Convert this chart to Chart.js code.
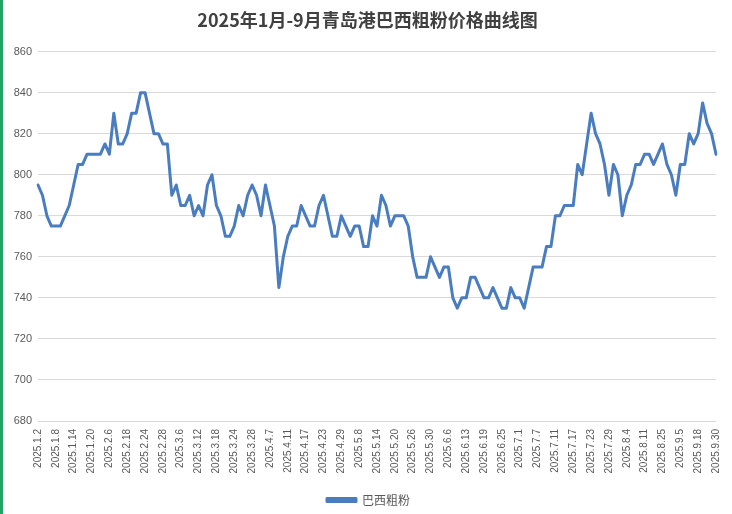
<!DOCTYPE html>
<html>
<head>
<meta charset="utf-8">
<script src="https://cdn.jsdelivr.net/npm/chart.js@4/dist/chart.umd.min.js"></script>
<style>
  html, body { margin: 0; padding: 0; background: #fff; }
  #wrap { position: relative; width: 732px; height: 514px; }
  #edge { position: absolute; left: 0; top: 0; width: 3px; height: 514px; background: #21a366; }
</style>
</head>
<body>
<div id="wrap">
  <canvas id="chart" width="732" height="514"></canvas>
  <div id="edge"></div>
</div>
<script>
// 横軸に表示される日付（4点ごと）
const tickLabels = [
  '2025.1.2', '2025.1.8', '2025.1.14', '2025.1.20', '2025.2.6', '2025.2.18', '2025.2.24', '2025.2.28',
  '2025.3.6', '2025.3.12', '2025.3.18', '2025.3.24', '2025.3.28', '2025.4.7', '2025.4.11', '2025.4.17',
  '2025.4.23', '2025.4.29', '2025.5.8', '2025.5.14', '2025.5.20', '2025.5.26', '2025.5.30', '2025.6.6',
  '2025.6.13', '2025.6.19', '2025.6.25', '2025.7.1', '2025.7.7', '2025.7.11', '2025.7.17', '2025.7.23',
  '2025.7.29', '2025.8.4', '2025.8.11', '2025.8.25', '2025.9.5', '2025.9.18', '2025.9.30'
];

// 巴西粗粉 价格（元/吨）
const prices = [
  795, 790, 780, 775, 775, 775, 780, 785, 795, 805, 805, 810, 810, 810, 810, 815, 810, 830, 815, 815,
  820, 830, 830, 840, 840, 830, 820, 820, 815, 815, 790, 795, 785, 785, 790, 780, 785, 780, 795, 800,
  785, 780, 770, 770, 775, 785, 780, 790, 795, 790, 780, 795, 785, 775, 745, 760, 770, 775, 775, 785,
  780, 775, 775, 785, 790, 780, 770, 770, 780, 775, 770, 775, 775, 765, 765, 780, 775, 790, 785, 775,
  780, 780, 780, 775, 760, 750, 750, 750, 760, 755, 750, 755, 755, 740, 735, 740, 740, 750, 750, 745,
  740, 740, 745, 740, 735, 735, 745, 740, 740, 735, 745, 755, 755, 755, 765, 765, 780, 780, 785, 785,
  785, 805, 800, 815, 830, 820, 815, 805, 790, 805, 800, 780, 790, 795, 805, 805, 810, 810, 805, 810,
  815, 805, 800, 790, 805, 805, 820, 815, 820, 835, 825, 820, 810
];

const yMin = 680;
const yMax = 860;
const yStep = 20;

// 目盛りの間は空ラベルで埋める
const categories = [];
tickLabels.forEach((t, k) => {
  categories.push(t);
  if (k < tickLabels.length - 1) categories.push('', '', '');
});

// タイトルと凡例をプロット領域の中央寄りに少しずらす
const shiftBoxes = {
  id: 'shiftBoxes',
  afterLayout(chart) {
    if (chart.titleBlock) { chart.titleBlock.left += 8; chart.titleBlock.right += 8; }
    if (chart.legend) {
      chart.legend.left += 9; chart.legend.right += 9;
      chart.legend.top += 2; chart.legend.bottom += 2;
    }
  }
};

const ctx = document.getElementById('chart').getContext('2d');
new Chart(ctx, {
  type: 'line',
  data: {
    labels: categories,
    datasets: [{
      label: '巴西粗粉',
      data: prices,
      borderColor: '#4a7dbf',
      backgroundColor: '#4a7dbf',
      borderWidth: 3,
      borderJoinStyle: 'round',
      borderCapStyle: 'round',
      pointRadius: 0,
      tension: 0
    }]
  },
  plugins: [shiftBoxes],
  options: {
    responsive: false,
    animation: false,
    layout: {
      padding: { left: 3, right: 16, bottom: 0, top: 0 }
    },
    plugins: {
      title: {
        display: true,
        text: '2025年1月-9月青岛港巴西粗粉价格曲线图',
        color: '#404040',
        font: { family: '"Noto Sans CJK SC", sans-serif', size: 18, weight: 'bold' },
        padding: { top: 9, bottom: 21 }
      },
      legend: {
        position: 'bottom',
        labels: {
          boxWidth: 29,
          boxHeight: 3,
          color: '#595959',
          font: { family: '"Noto Sans CJK SC", sans-serif', size: 12 },
          padding: 10
        }
      },
      tooltip: { enabled: false }
    },
    scales: {
      x: {
        offset: false,
        grid: { display: false },
        border: { display: false },
        ticks: {
          autoSkip: false,
          minRotation: 90,
          maxRotation: 90,
          padding: 0,
          color: '#595959',
          font: { family: '"Liberation Sans", sans-serif', size: 10 }
        },
        afterFit: (scale) => { scale.height = 61; }
      },
      y: {
        min: yMin,
        max: yMax,
        grid: { color: '#d9d9d9', lineWidth: 1, drawTicks: false },
        border: { display: false },
        ticks: {
          stepSize: yStep,
          padding: 6,
          color: '#595959',
          font: { family: '"Liberation Sans", sans-serif', size: 11 }
        },
        afterFit: (scale) => { scale.width = 35; }
      }
    }
  }
});
</script>
</body>
</html>
